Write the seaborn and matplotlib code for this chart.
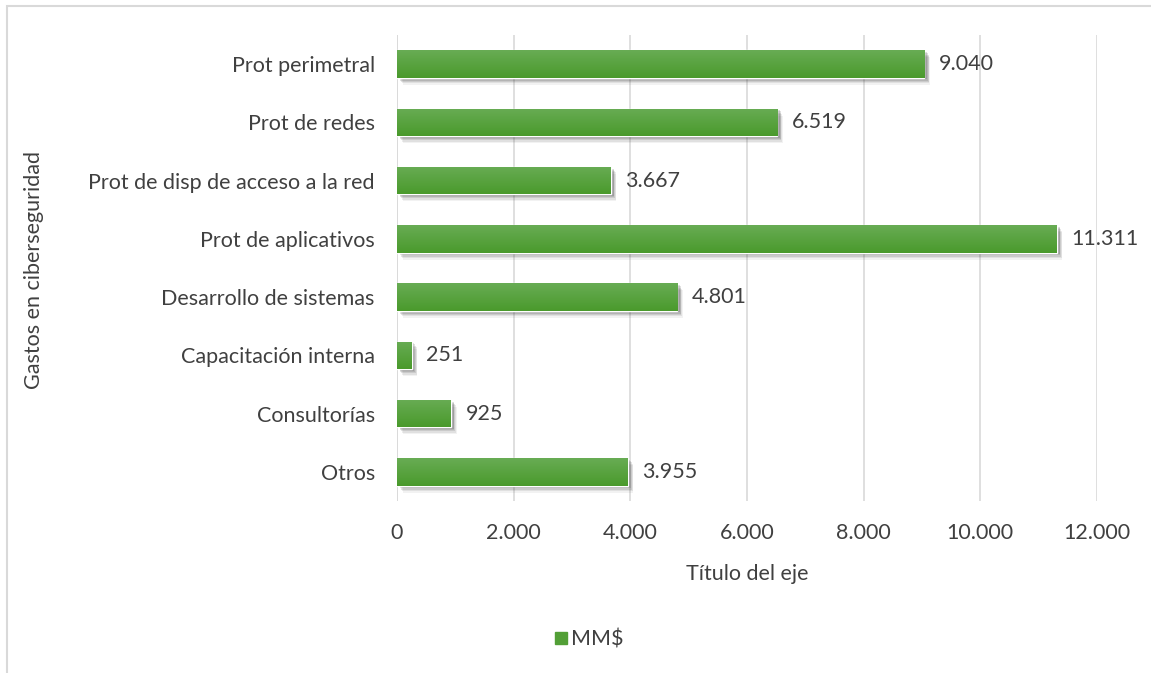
import numpy as np
import pandas as pd
import matplotlib
matplotlib.use("Agg")
import matplotlib.pyplot as plt
import matplotlib.patheffects as pe
from matplotlib.lines import Line2D
from matplotlib.patches import Rectangle
import seaborn as sns

categories = ["Prot perimetral", "Prot de redes", "Prot de disp de acceso a la red",
              "Prot de aplicativos", "Desarrollo de sistemas", "Capacitación interna",
              "Consultorías", "Otros"]
values = [9040, 6519, 3667, 11311, 4801, 251, 925, 3955]
series_name = "MM$"
x_ticks = [0, 2000, 4000, 6000, 8000, 10000, 12000]

df = pd.DataFrame({"categoria": categories, "valor": values})

sns.set_theme(style="white")
plt.rcParams["font.family"] = ["Lato", "DejaVu Sans"]

TEXT = "#404040"
GREEN = "#529f36"
FS = 15.5

fig = plt.figure(figsize=(11.51, 6.73), dpi=100)
ax = fig.add_axes([397 / 1151, 1 - 501 / 673, 700 / 1151, 466 / 673])

sns.barplot(data=df, x="valor", y="categoria", orient="h", color=GREEN,
            width=0.47, saturation=1, ax=ax, zorder=3)

# vertical gradient + soft drop shadow on every bar
grad = np.linspace(0, 1, 64).reshape(-1, 1)
cmap = matplotlib.colors.LinearSegmentedColormap.from_list("g", ["#68ac54", "#4a9a2c"])
shadow = [pe.SimplePatchShadow(offset=(dx, dy), shadow_rgbFace="#303030", alpha=a)
          for dx, dy, a in [(4, -5, 0.06), (3.5, -4, 0.09), (3, -3, 0.12),
                            (2.5, -2, 0.14), (2, -1.2, 0.16)]]
for p in ax.patches:
    p.set_path_effects(shadow + [pe.Normal()])
    x0, y0 = p.get_x(), p.get_y()
    w, h = p.get_width(), p.get_height()
    im = ax.imshow(grad, cmap=cmap, aspect="auto", extent=(x0, x0 + w, y0 + h, y0),
                   zorder=4, interpolation="bilinear")
    im.set_clip_path(p)

for i, v in enumerate(values):
    ax.text(v + 250, i, f"{v:,}".replace(",", "."), va="center", ha="left",
            fontsize=FS, color=TEXT, zorder=5)

ax.set_xlim(0, 12000)
ax.set_ylim(7.5, -0.5)
ax.set_xticks(x_ticks)
ax.set_xticklabels([f"{t:,}".replace(",", ".") for t in x_ticks])
ax.grid(axis="x", color="#d9d9d9", linewidth=1.2, zorder=0)
ax.grid(axis="y", visible=False)
for s in ax.spines.values():
    s.set_visible(False)
ax.axvline(0, color="#d9d9d9", linewidth=1.2, zorder=1)
ax.tick_params(axis="x", length=0, pad=16, labelsize=FS, labelcolor=TEXT)
ax.tick_params(axis="y", length=0, pad=16, labelsize=FS, labelcolor=TEXT)
ax.set_xlabel("Título del eje", fontsize=FS, color=TEXT, labelpad=15)
ax.set_ylabel("")
fig.text(34 / 1151, 1 - 270 / 673, "Gastos en ciberseguridad", rotation=90,
         ha="center", va="center", fontsize=FS, color=TEXT)

handle = Line2D([], [], marker="s", linestyle="none", markersize=8,
                markerfacecolor=GREEN, markeredgecolor=GREEN)
fig.legend([handle], [series_name], loc="center", bbox_to_anchor=(588 / 1151, 1 - 640 / 673),
           frameon=False, fontsize=FS, labelcolor=TEXT, handletextpad=0.1,
           handlelength=0.8)

# chart frame
fig.patches.append(Rectangle((7.5 / 1151, -0.05), 1.1, 1 - 6.5 / 673 + 0.05,
                             transform=fig.transFigure, fill=False,
                             edgecolor="#d9d9d9", linewidth=1.5))

fig.savefig("out.png", dpi=100)
